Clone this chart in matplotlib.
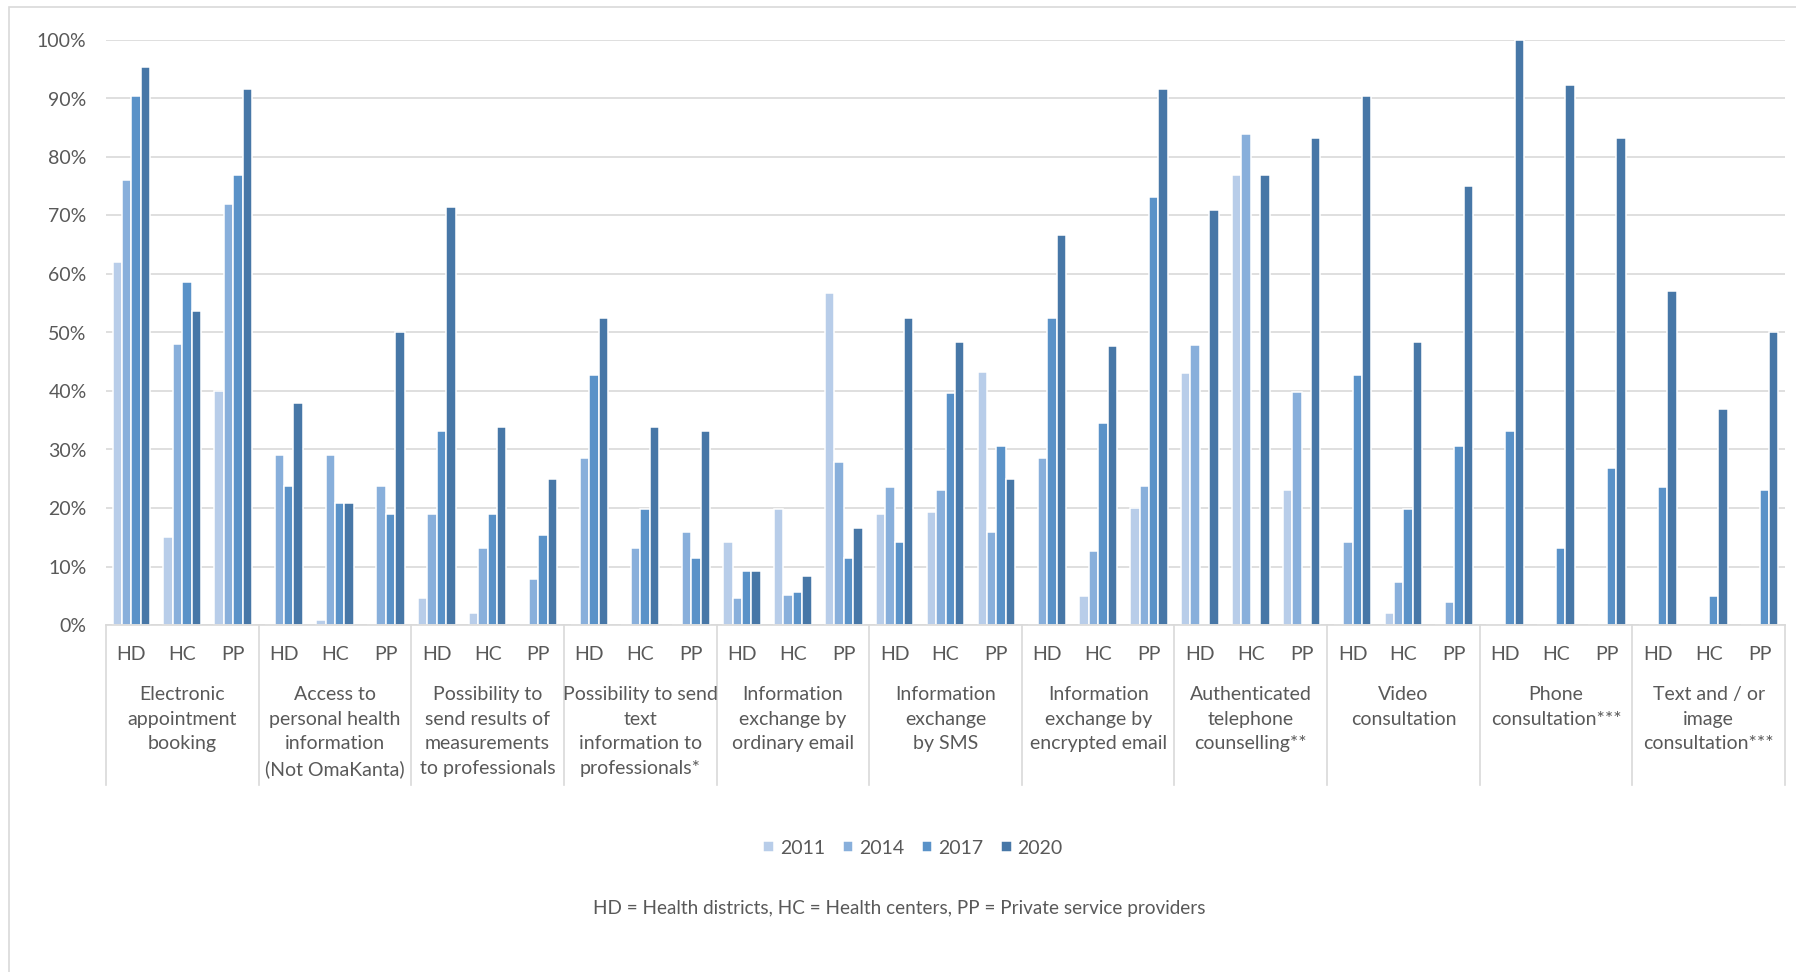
import matplotlib

matplotlib.use("Agg")

import matplotlib.pyplot as plt
import numpy as np
from matplotlib.patches import Rectangle
from matplotlib.ticker import PercentFormatter

plt.rcParams["font.family"] = ["Lato", "DejaVu Sans"]

years = ["2011", "2014", "2017", "2020"]
colors = ["#b8cde9", "#88afdb", "#5a92c8", "#4777a7"]
providers = ["HD", "HC", "PP"]
services = [
    "Electronic\nappointment\nbooking",
    "Access to\npersonal health\ninformation\n(Not OmaKanta)",
    "Possibility to\nsend results of\nmeasurements\nto professionals",
    "Possibility to send\ntext\ninformation to\nprofessionals*",
    "Information\nexchange by\nordinary email",
    "Information\nexchange\nby SMS",
    "Information\nexchange by\nencrypted email",
    "Authenticated\ntelephone\ncounselling**",
    "Video\nconsultation",
    "Phone\nconsultation***",
    "Text and / or\nimage\nconsultation***",
]

# share of organisations (%), one value per service x provider (HD, HC, PP)
share_2011 = [
    62.0, 15.1, 40.0,
    0.0, 0.8, 0.0,
    4.7, 2.0, 0.0,
    0.0, 0.0, 0.0,
    14.2, 19.9, 56.7,
    18.9, 19.4, 43.2,
    0.0, 5.0, 20.0,
    43.0, 76.9, 23.1,
    0.0, 2.0, 0.0,
    0.0, 0.0, 0.0,
    0.0, 0.0, 0.0,
]
share_2014 = [
    76.1, 48.1, 72.0,
    29.0, 29.0, 23.8,
    18.9, 13.1, 7.8,
    28.5, 13.1, 15.9,
    4.7, 5.1, 27.8,
    23.6, 23.1, 15.9,
    28.5, 12.6, 23.8,
    47.8, 84.0, 39.9,
    14.2, 7.3, 4.0,
    0.0, 0.0, 0.0,
    0.0, 0.0, 0.0,
]
share_2017 = [
    90.4, 58.6, 76.9,
    23.8, 20.8, 18.9,
    33.2, 18.9, 15.3,
    42.8, 19.8, 11.4,
    9.3, 5.7, 11.4,
    14.2, 39.7, 30.6,
    52.4, 34.6, 73.1,
    0.0, 0.0, 0.0,
    42.8, 19.8, 30.6,
    33.2, 13.1, 26.9,
    23.6, 5.0, 23.1,
]
share_2020 = [
    95.3, 53.7, 91.7,
    37.9, 20.8, 50.0,
    71.4, 33.8, 24.9,
    52.4, 33.8, 33.2,
    9.3, 8.3, 16.6,
    52.4, 48.3, 24.9,
    66.7, 47.7, 91.7,
    70.9, 76.9, 83.3,
    90.4, 48.3, 75.0,
    100.0, 92.3, 83.3,
    57.1, 36.9, 50.0,
]
footnote = "HD = Health districts, HC = Health centers, PP = Private service providers"

W, H = 1796, 972
text_color = "#595959"
grid_color = "#d9d9d9"

fig = plt.figure(figsize=(W / 100, H / 100), dpi=100)
fig.patches.append(
    Rectangle((9 / W, -0.1), 1.2, 1.1 - 7 / H, transform=fig.transFigure,
              fill=False, edgecolor=grid_color, linewidth=1.2)
)

left, right, top, bottom = 106, 1785, 40, 625
ax = fig.add_axes([left / W, 1 - bottom / H, (right - left) / W, (bottom - top) / H])

series = [share_2011, share_2014, share_2017, share_2020]
n_slots = len(services) * len(providers)
x = np.arange(n_slots)
bar_w = 0.185
for i, (year, vals, col) in enumerate(zip(years, series, colors)):
    ax.bar(x + (i - 1.5) * bar_w, np.array(vals) / 100, width=bar_w, color=col,
           edgecolor="white", linewidth=1.1, label=year, zorder=2)

ax.set_xlim(-0.5, n_slots - 0.5)
ax.set_ylim(0, 1)
ax.set_yticks(np.arange(0, 1.01, 0.1))
ax.yaxis.set_major_formatter(PercentFormatter(1.0, decimals=0))
ax.tick_params(axis="y", length=0, pad=14, labelsize=14, labelcolor=text_color)
ax.set_xticks([])
ax.grid(axis="y", color=grid_color, linewidth=1.2, zorder=0)
ax.set_axisbelow(True)
for side in ["top", "right", "left"]:
    ax.spines[side].set_visible(False)
ax.spines["bottom"].set_color(grid_color)
ax.spines["bottom"].set_linewidth(1.2)

# two-level category axis: provider codes, then service names in boxes
px_per_axes = bottom - top
xt = ax.get_xaxis_transform()
for k in range(n_slots):
    ax.text(k, -29 / px_per_axes, providers[k % 3], transform=xt, ha="center",
            va="center", fontsize=14, color=text_color)
for g, name in enumerate(services):
    ax.text(3 * g + 1, -61 / px_per_axes, name, transform=xt, ha="center",
            va="top", fontsize=14, color=text_color, linespacing=1.55)
for b in np.arange(-0.5, n_slots, 3):
    ax.plot([b, b], [0, -160 / px_per_axes], transform=xt, color=grid_color,
            linewidth=1.2, clip_on=False)

fig.legend(loc="center", bbox_to_anchor=(913 / W, 1 - 848 / H), ncol=4,
           frameon=False, fontsize=14, labelcolor=text_color, handlelength=0.55,
           handleheight=0.55, handletextpad=0.3, columnspacing=0.9)
fig.text(899 / W, 1 - 908 / H, footnote, ha="center", va="center", fontsize=13.6,
         color=text_color)

fig.savefig("out.png", dpi=100)
